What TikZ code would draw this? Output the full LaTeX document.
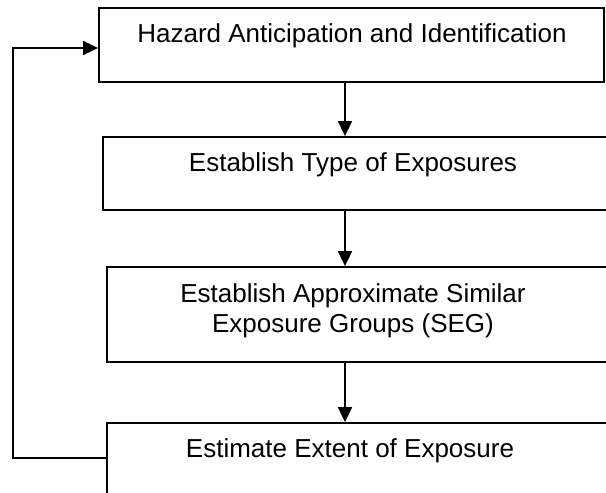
\documentclass[tikz,border=0pt]{standalone}
\usepackage{fontspec}
\setmainfont{Liberation Sans}
\usetikzlibrary{arrows.meta}
\begin{document}
\begin{tikzpicture}[x=1pt,y=1pt,
  box/.style={draw=black,line width=1.8pt,rectangle,inner sep=0pt},
  lbl/.style={anchor=base,inner sep=0pt,font=\fontsize{26}{30}\selectfont},
  arr/.style={line width=1.8pt,-{Triangle[length=15pt,width=14pt]}},
  ln/.style={line width=1.8pt}]
\clip (0,0) rectangle (606,493);
\fill[white] (0,0) rectangle (606,493);
\node[box,minimum width=505pt,minimum height=74pt] (b1) at (351.5,448) {};
\node[box,minimum width=507pt,minimum height=73pt] (b2) at (356.5,319.5) {};
\node[box,minimum width=503pt,minimum height=95pt] (b3) at (358.5,178.5) {};
\node[box,minimum width=503pt,minimum height=77pt] (b4) at (358.5,31.5) {};
\node[lbl] (t1) at (352,450) {Hazard Anticipation and Identification};
\node[lbl] (t2) at (353,321) {Establish Type of Exposures};
\node[lbl] (t3a) at (353,190) {Establish Approximate Similar};
\node[lbl] (t3b) at (353,160) {Exposure Groups (SEG)};
\node[lbl] (t4) at (350,35) {Estimate Extent of Exposure};
\coordinate (ax) at (345,0);
\coordinate (fb) at (13,35);
\coordinate (ft) at (13,445);
\draw[arr] (b1.south -| ax) -- (b2.north -| ax);
\draw[arr] (b2.south -| ax) -- (b3.north -| ax);
\draw[arr] (b3.south -| ax) -- (b4.north -| ax);
\draw[arr] (b4.west |- fb) -- (fb) -- (ft) -- (b1.west |- ft);
\end{tikzpicture}
\end{document}
